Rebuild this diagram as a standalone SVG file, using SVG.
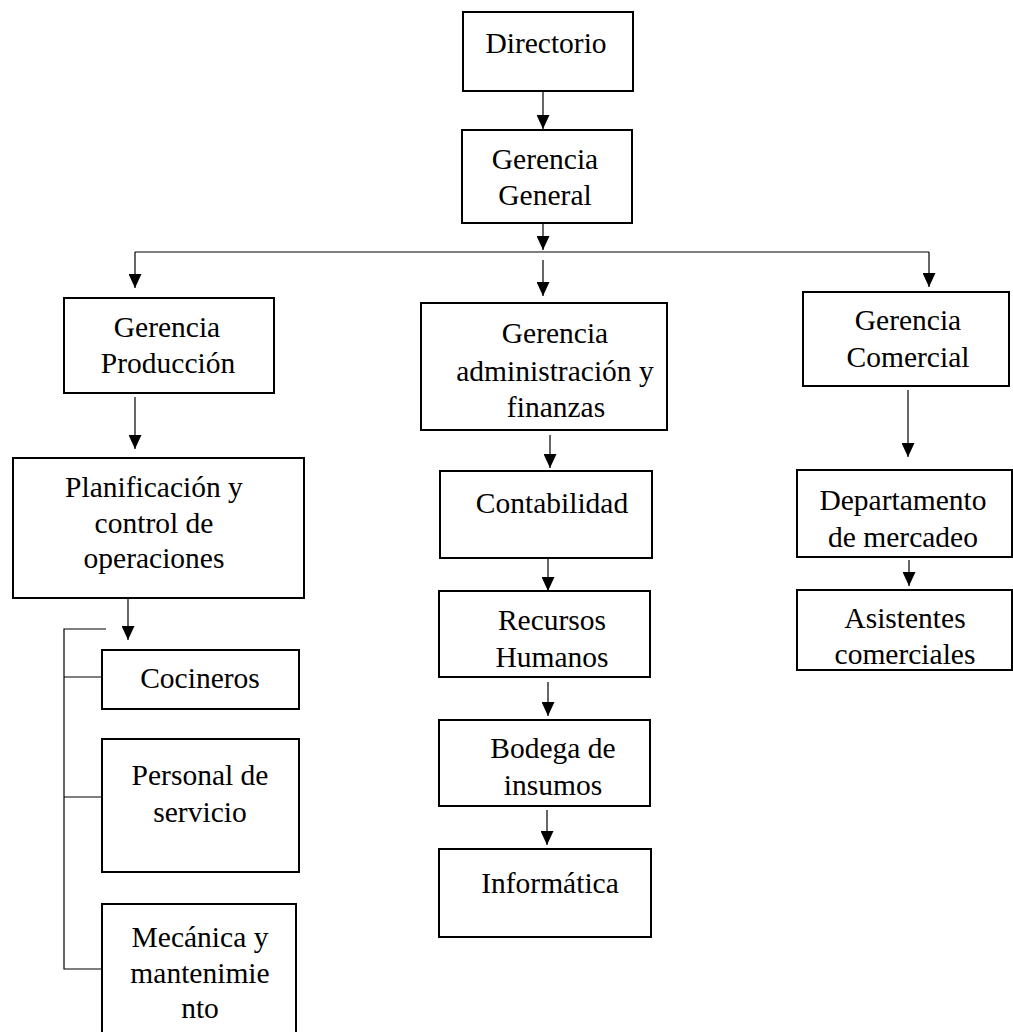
<svg xmlns="http://www.w3.org/2000/svg" width="1013" height="1032" viewBox="0 0 1013 1032">
<style>
.box{fill:#fff;stroke:#000;stroke-width:2}
.t{font-family:'Liberation Serif','Tinos','Times New Roman','DejaVu Serif',serif;font-size:29.5px;fill:#000;text-anchor:middle}
.c{fill:none;stroke:#000;stroke-width:1.2}
</style>
<defs>
<marker id="ah" markerUnits="userSpaceOnUse" markerWidth="14" markerHeight="13" refX="14" refY="6.5" orient="auto">
<path d="M0,0 L14,6.5 L0,13 z" fill="#000"/>
</marker>
</defs>
<rect width="1013" height="1032" fill="#fff"/>
<g id="connectors">
<line class="c" x1="543" y1="91" x2="543" y2="129" marker-end="url(#ah)"/>
<line class="c" x1="543" y1="223" x2="543" y2="250" marker-end="url(#ah)"/>
<line class="c" x1="135" y1="252" x2="929" y2="252"/>
<line class="c" x1="135" y1="252" x2="135" y2="288" marker-end="url(#ah)"/>
<line class="c" x1="543" y1="260" x2="543" y2="296" marker-end="url(#ah)"/>
<line class="c" x1="929" y1="252" x2="929" y2="287" marker-end="url(#ah)"/>
<line class="c" x1="135" y1="397" x2="135" y2="449" marker-end="url(#ah)"/>
<line class="c" x1="128" y1="598" x2="128" y2="640" marker-end="url(#ah)"/>
<polyline class="c" points="106,629 64,629 64,969 102,969"/>
<line class="c" x1="64" y1="677" x2="102" y2="677"/>
<line class="c" x1="64" y1="797" x2="102" y2="797"/>
<line class="c" x1="550" y1="435" x2="550" y2="468" marker-end="url(#ah)"/>
<line class="c" x1="548" y1="558" x2="548" y2="591" marker-end="url(#ah)"/>
<line class="c" x1="548" y1="682" x2="548" y2="716" marker-end="url(#ah)"/>
<line class="c" x1="547" y1="810" x2="547" y2="845" marker-end="url(#ah)"/>
<line class="c" x1="908" y1="390" x2="908" y2="457" marker-end="url(#ah)"/>
<line class="c" x1="909" y1="560" x2="909" y2="586" marker-end="url(#ah)"/>
</g>
<g id="directorio"><rect class="box" x="463" y="12" width="170" height="79"/><text class="t" x="546" y="53">Directorio</text></g>
<g id="gerencia-general"><rect class="box" x="462" y="130" width="170" height="93"/><text class="t" x="545" y="169">Gerencia</text><text class="t" x="545" y="205">General</text></g>
<g id="gerencia-produccion"><rect class="box" x="64" y="298" width="210" height="95"/><text class="t" x="167" y="337">Gerencia</text><text class="t" x="168" y="373">Producción</text></g>
<g id="gerencia-admin"><rect class="box" x="421" y="303" width="246" height="127"/><text class="t" x="555" y="343">Gerencia</text><text class="t" x="555" y="381">administración y</text><text class="t" x="556" y="417">finanzas</text></g>
<g id="gerencia-comercial"><rect class="box" x="803" y="292" width="206" height="94"/><text class="t" x="908" y="330">Gerencia</text><text class="t" x="908" y="367">Comercial</text></g>
<g id="planificacion"><rect class="box" x="13" y="458" width="291" height="140"/><text class="t" x="154" y="497">Planificación y</text><text class="t" x="154" y="533">control de</text><text class="t" x="154" y="568">operaciones</text></g>
<g id="contabilidad"><rect class="box" x="440" y="471" width="212" height="87"/><text class="t" x="552" y="513">Contabilidad</text></g>
<g id="recursos"><rect class="box" x="439" y="591" width="211" height="86"/><text class="t" x="552" y="630">Recursos</text><text class="t" x="552" y="667">Humanos</text></g>
<g id="bodega"><rect class="box" x="439" y="720" width="211" height="86"/><text class="t" x="553" y="758">Bodega de</text><text class="t" x="553" y="795">insumos</text></g>
<g id="informatica"><rect class="box" x="439" y="849" width="212" height="88"/><text class="t" x="550" y="893">Informática</text></g>
<g id="departamento"><rect class="box" x="797" y="470" width="215" height="87"/><text class="t" x="903" y="510">Departamento</text><text class="t" x="903" y="547">de mercadeo</text></g>
<g id="asistentes"><rect class="box" x="797" y="590" width="215" height="80"/><text class="t" x="905" y="628">Asistentes</text><text class="t" x="905" y="664">comerciales</text></g>
<g id="cocineros"><rect class="box" x="102" y="650" width="197" height="59"/><text class="t" x="200" y="688">Cocineros</text></g>
<g id="personal"><rect class="box" x="102" y="739" width="197" height="133"/><text class="t" x="200" y="785">Personal de</text><text class="t" x="200" y="822">servicio</text></g>
<g id="mecanica"><rect class="box" x="102" y="904" width="194" height="140"/><text class="t" x="200" y="947">Mecánica y</text><text class="t" x="200" y="983">mantenimie</text><text class="t" x="200" y="1018">nto</text></g>
</svg>
